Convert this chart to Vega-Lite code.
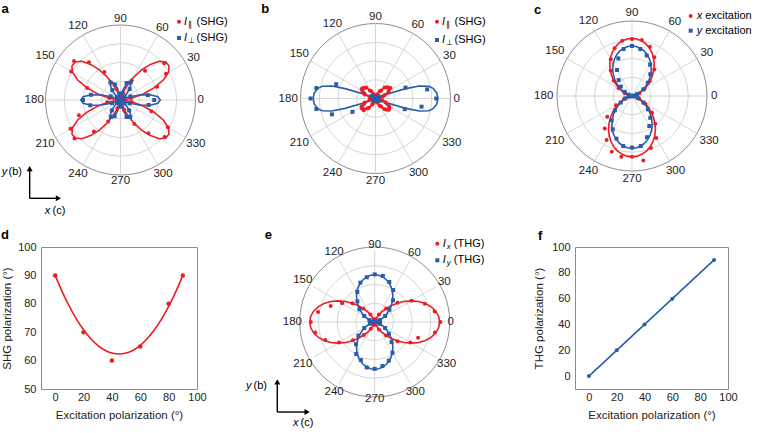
{
"$schema": "https://vega.github.io/schema/vega-lite/v6.json",
"background": "white",
"padding": {"left": 0, "top": 0, "right": 0, "bottom": 0},
"spacing": -18,
"config": {"font": "Liberation Sans", "axis": {"domain": false, "ticks": false, "grid": false, "labelFontSize": 11, "titleFontSize": 11.5, "titleFontWeight": "normal", "labelColor": "#222", "titleColor": "#222", "titlePadding": 7, "labelFlush": false, "labelOverlap": false}},
"vconcat": [
{"hconcat": [
{
"width": 257, "height": 246, "view": {"stroke": null},
"data": {"values": "k,s,t,r\nf,r,0,0\nf,r,5,.05\nf,r,10,.17\nf,r,15,.32\nf,r,20,.48\nf,r,25,.63\nf,r,30,.74\nf,r,35,.79\nf,r,40,.79\nf,r,45,.73\nf,r,50,.62\nf,r,55,.49\nf,r,60,.35\nf,r,65,.23\nf,r,70,.13\nf,r,75,.06\nf,r,80,.02\nf,r,85,.005\nf,r,90,0\nf,r,95,.005\nf,r,100,.02\nf,r,105,.06\nf,r,110,.13\nf,r,115,.23\nf,r,120,.35\nf,r,125,.49\nf,r,130,.62\nf,r,135,.73\nf,r,140,.79\nf,r,145,.79\nf,r,150,.74\nf,r,155,.63\nf,r,160,.48\nf,r,165,.32\nf,r,170,.17\nf,r,175,.05\nf,r,180,0\nf,r,185,.05\nf,r,190,.17\nf,r,195,.32\nf,r,200,.48\nf,r,205,.63\nf,r,210,.74\nf,r,215,.79\nf,r,220,.79\nf,r,225,.73\nf,r,230,.62\nf,r,235,.49\nf,r,240,.35\nf,r,245,.23\nf,r,250,.13\nf,r,255,.06\nf,r,260,.02\nf,r,265,.005\nf,r,270,0\nf,r,275,.005\nf,r,280,.02\nf,r,285,.06\nf,r,290,.13\nf,r,295,.23\nf,r,300,.35\nf,r,305,.49\nf,r,310,.62\nf,r,315,.73\nf,r,320,.79\nf,r,325,.79\nf,r,330,.74\nf,r,335,.63\nf,r,340,.48\nf,r,345,.32\nf,r,350,.17\nf,r,355,.05\nf,b,0,.53\nf,b,5,.50\nf,b,10,.40\nf,b,15,.26\nf,b,20,.13\nf,b,25,.04\nf,b,30,0\nf,b,35,.02\nf,b,40,.06\nf,b,45,.12\nf,b,50,.18\nf,b,55,.23\nf,b,60,.26\nf,b,65,.26\nf,b,70,.22\nf,b,75,.15\nf,b,80,.08\nf,b,85,.025\nf,b,90,0\nf,b,95,.025\nf,b,100,.08\nf,b,105,.15\nf,b,110,.22\nf,b,115,.26\nf,b,120,.26\nf,b,125,.23\nf,b,130,.18\nf,b,135,.12\nf,b,140,.06\nf,b,145,.02\nf,b,150,0\nf,b,155,.04\nf,b,160,.13\nf,b,165,.26\nf,b,170,.40\nf,b,175,.50\nf,b,180,.53\nf,b,185,.50\nf,b,190,.40\nf,b,195,.26\nf,b,200,.13\nf,b,205,.04\nf,b,210,0\nf,b,215,.02\nf,b,220,.06\nf,b,225,.12\nf,b,230,.18\nf,b,235,.23\nf,b,240,.26\nf,b,245,.26\nf,b,250,.22\nf,b,255,.15\nf,b,260,.08\nf,b,265,.025\nf,b,270,0\nf,b,275,.025\nf,b,280,.08\nf,b,285,.15\nf,b,290,.22\nf,b,295,.26\nf,b,300,.26\nf,b,305,.23\nf,b,310,.18\nf,b,315,.12\nf,b,320,.06\nf,b,325,.02\nf,b,330,0\nf,b,335,.04\nf,b,340,.13\nf,b,345,.26\nf,b,350,.40\nf,b,355,.50\np,r,0,.02\np,r,10,.14\np,r,20,.52\np,r,30,.70\np,r,40,.76\np,r,50,.51\np,r,60,.30\np,r,70,.10\np,r,80,.03\np,r,90,.02\np,r,100,.04\np,r,110,.16\np,r,120,.43\np,r,130,.655\np,r,140,.81\np,r,150,.76\np,r,160,.47\np,r,170,.15\np,r,180,.03\np,r,190,.18\np,r,200,.59\np,r,210,.77\np,r,220,.80\np,r,230,.55\np,r,240,.33\np,r,250,.12\np,r,260,.03\np,r,270,.02\np,r,280,.03\np,r,290,.14\np,r,300,.37\np,r,310,.58\np,r,320,.77\np,r,330,.73\np,r,340,.44\np,r,350,.15\np,b,0,.45\np,b,10,.37\np,b,20,.14\np,b,30,.03\np,b,40,.07\np,b,50,.19\np,b,60,.27\np,b,70,.24\np,b,80,.09\np,b,90,.02\np,b,100,.08\np,b,110,.22\np,b,120,.27\np,b,130,.17\np,b,140,.06\np,b,150,.02\np,b,160,.14\np,b,170,.40\np,b,180,.50\np,b,190,.41\np,b,200,.12\np,b,210,.02\np,b,220,.06\np,b,230,.18\np,b,240,.26\np,b,250,.23\np,b,260,.08\np,b,270,.02\np,b,280,.09\np,b,290,.24\np,b,300,.26\np,b,310,.18\np,b,320,.07\np,b,330,.02\np,b,340,.13\np,b,350,.38", "format": {"type": "csv", "parse": {"t": "number", "r": "number"}}},
"layer": [
{"data": {"values": [{"r": 0.25}, {"r": 0.5}, {"r": 0.75}, {"r": 1}]}, "transform": [{"calculate": "0", "as": "o"}], "mark": {"type": "point", "shape": "circle", "filled": false, "opacity": 1, "strokeWidth": 0.8},
 "encoding": {"x": {"field": "o", "type": "quantitative", "scale": {"domain": [-1.06, 2.3667], "nice": false, "zero": false}, "axis": null}, "y": {"field": "o", "type": "quantitative", "scale": {"domain": [-1.9467, 1.3333], "nice": false, "zero": false}, "axis": null}, "size": {"field": "r", "type": "quantitative", "scale": {"type": "pow", "exponent": 2, "domain": [0, 1], "range": [0, 22500]}, "legend": null}, "color": {"condition": {"test": "datum.r == 1", "value": "#707070"}, "value": "#cccccc"}}},
{"data": {"values": [{"t": 0}, {"t": 30}, {"t": 60}, {"t": 90}, {"t": 120}, {"t": 150}, {"t": 180}, {"t": 210}, {"t": 240}, {"t": 270}, {"t": 300}, {"t": 330}]},
 "transform": [{"calculate": "0", "as": "o"}, {"calculate": "cos(datum.t*PI/180)", "as": "cx"}, {"calculate": "sin(datum.t*PI/180)", "as": "cy"}],
 "mark": {"type": "rule", "color": "#cccccc", "strokeWidth": 0.8},
 "encoding": {"x": {"field": "o", "type": "quantitative", "axis": null}, "y": {"field": "o", "type": "quantitative", "axis": null}, "x2": {"field": "cx"}, "y2": {"field": "cy"}}},
{"data": {"values": [{"t": 0}, {"t": 30}, {"t": 60}, {"t": 90}, {"t": 120}, {"t": 150}, {"t": 180}, {"t": 210}, {"t": 240}, {"t": 270}, {"t": 300}, {"t": 330}]},
 "transform": [{"calculate": "1+(2+3.1*length(toString(datum.t))*abs(cos(datum.t*PI/180))+4*abs(sin(datum.t*PI/180)))/75", "as": "lr"}, {"calculate": "datum.lr*cos(datum.t*PI/180)", "as": "lx"}, {"calculate": "datum.lr*sin(datum.t*PI/180)", "as": "ly"}],
 "mark": {"type": "text", "fontSize": 11.5, "color": "#222"},
 "encoding": {"x": {"field": "lx", "type": "quantitative", "axis": null}, "y": {"field": "ly", "type": "quantitative", "axis": null}, "text": {"field": "t", "type": "nominal"}}},
{"transform": [{"filter": "datum.k == 'f'"}, {"calculate": "datum.r*cos(datum.t*PI/180)", "as": "x"}, {"calculate": "datum.r*sin(datum.t*PI/180)", "as": "y"}],
 "mark": {"type": "line", "interpolate": "linear-closed", "strokeWidth": 1.6},
 "encoding": {"x": {"field": "x", "type": "quantitative", "axis": null}, "y": {"field": "y", "type": "quantitative", "axis": null}, "color": {"field": "s", "type": "nominal", "scale": {"domain": ["r", "b"], "range": ["#ed1c24", "#2a5caa"]}, "legend": null}, "order": {"field": "t", "type": "quantitative"}}},
{"transform": [{"filter": "datum.k == 'p'"}, {"calculate": "datum.r*cos(datum.t*PI/180)", "as": "x"}, {"calculate": "datum.r*sin(datum.t*PI/180)", "as": "y"}],
 "mark": {"type": "point", "filled": true, "opacity": 1, "size": 16},
 "encoding": {"x": {"field": "x", "type": "quantitative", "axis": null}, "y": {"field": "y", "type": "quantitative", "axis": null}, "color": {"field": "s", "type": "nominal", "scale": {"domain": ["r", "b"], "range": ["#ed1c24", "#2a5caa"]}, "legend": null}, "shape": {"field": "s", "type": "nominal", "scale": {"domain": ["r", "b"], "range": ["circle", "square"]}, "legend": null}}},
{"data": {"values": [{}]}, "encoding": {"x": {"datum": 0.78, "type": "quantitative", "axis": null}, "y": {"datum": 1.044, "type": "quantitative", "axis": null}},
 "layer": [
  {"mark": {"type": "point", "filled": true, "shape": "circle", "size": 16, "color": "#ed1c24", "opacity": 1}},
  {"mark": {"type": "text", "text": "I", "align": "left", "dx": 5, "fontStyle": "italic", "fontSize": 11}},
  {"mark": {"type": "text", "text": "∥", "align": "left", "dx": 9, "dy": 3, "fontSize": 7.5}},
  {"mark": {"type": "text", "text": "(SHG)", "align": "left", "dx": 17.5, "fontSize": 11}}]},
{"data": {"values": [{}]}, "encoding": {"x": {"datum": 0.78, "type": "quantitative", "axis": null}, "y": {"datum": 0.827, "type": "quantitative", "axis": null}},
 "layer": [
  {"mark": {"type": "point", "filled": true, "shape": "square", "size": 16, "color": "#2a5caa", "opacity": 1}},
  {"mark": {"type": "text", "text": "I", "align": "left", "dx": 5, "fontStyle": "italic", "fontSize": 11}},
  {"mark": {"type": "text", "text": "⊥", "align": "left", "dx": 9, "dy": 3, "fontSize": 7.5}},
  {"mark": {"type": "text", "text": "(SHG)", "align": "left", "dx": 17.5, "fontSize": 11}}]},
{"data": {"values": [{}]}, "mark": {"type": "text", "text": "a", "align": "left", "baseline": "alphabetic", "fontWeight": "bold", "fontSize": 13},
 "encoding": {"x": {"datum": -1.586, "type": "quantitative", "axis": null}, "y": {"datum": 1.156, "type": "quantitative", "axis": null}}},
{"data": {"values": [{}]}, "transform": [{"calculate": "-1.211", "as": "x0"}, {"calculate": "-1.311", "as": "y0"}, {"calculate": "-0.915", "as": "y1"}], "mark": {"type": "rule", "color": "#000", "strokeWidth": 1.4},
 "encoding": {"x": {"field": "x0", "type": "quantitative", "axis": null}, "y": {"field": "y0", "type": "quantitative", "axis": null}, "y2": {"field": "y1"}}},
{"data": {"values": [{}]}, "transform": [{"calculate": "-1.211", "as": "x0"}, {"calculate": "-0.828", "as": "x1"}, {"calculate": "-1.311", "as": "y0"}], "mark": {"type": "rule", "color": "#000", "strokeWidth": 1.4},
 "encoding": {"x": {"field": "x0", "type": "quantitative", "axis": null}, "x2": {"field": "x1"}, "y": {"field": "y0", "type": "quantitative", "axis": null}}},
{"data": {"values": [{}]}, "mark": {"type": "point", "shape": "triangle-up", "filled": true, "size": 36, "color": "#000", "opacity": 1},
 "encoding": {"x": {"datum": -1.211, "type": "quantitative", "axis": null}, "y": {"datum": -0.915, "type": "quantitative", "axis": null}}},
{"data": {"values": [{}]}, "mark": {"type": "point", "shape": "triangle-right", "filled": true, "size": 36, "color": "#000", "opacity": 1},
 "encoding": {"x": {"datum": -0.828, "type": "quantitative", "axis": null}, "y": {"datum": -1.311, "type": "quantitative", "axis": null}}},
{"data": {"values": [{}]}, "mark": {"type": "text", "text": "y", "align": "left", "fontStyle": "italic", "fontSize": 11},
 "encoding": {"x": {"datum": -1.584, "type": "quantitative", "axis": null}, "y": {"datum": -0.956, "type": "quantitative", "axis": null}}},
{"data": {"values": [{}]}, "mark": {"type": "text", "text": "(b)", "align": "left", "fontSize": 11},
 "encoding": {"x": {"datum": -1.493, "type": "quantitative", "axis": null}, "y": {"datum": -0.956, "type": "quantitative", "axis": null}}},
{"data": {"values": [{}]}, "mark": {"type": "text", "text": "x", "align": "left", "fontStyle": "italic", "fontSize": 11},
 "encoding": {"x": {"datum": -1.011, "type": "quantitative", "axis": null}, "y": {"datum": -1.476, "type": "quantitative", "axis": null}}},
{"data": {"values": [{}]}, "mark": {"type": "text", "text": "(c)", "align": "left", "fontSize": 11},
 "encoding": {"x": {"datum": -0.905, "type": "quantitative", "axis": null}, "y": {"datum": -1.476, "type": "quantitative", "axis": null}}}
]
},
{
"width": 205, "height": 246, "view": {"stroke": null},
"data": {"values": "k,s,t,r\nf,r,0,0\nf,r,5,.015\nf,r,10,.05\nf,r,15,.09\nf,r,20,.14\nf,r,25,.18\nf,r,30,.21\nf,r,35,.23\nf,r,40,.23\nf,r,45,.21\nf,r,50,.18\nf,r,55,.14\nf,r,60,.10\nf,r,65,.065\nf,r,70,.035\nf,r,75,.015\nf,r,80,.005\nf,r,90,0\nf,r,100,.005\nf,r,105,.015\nf,r,110,.035\nf,r,115,.065\nf,r,120,.10\nf,r,125,.14\nf,r,130,.18\nf,r,135,.21\nf,r,140,.23\nf,r,145,.23\nf,r,150,.21\nf,r,155,.18\nf,r,160,.14\nf,r,165,.09\nf,r,170,.05\nf,r,175,.015\nf,r,180,0\nf,r,185,.015\nf,r,190,.05\nf,r,195,.09\nf,r,200,.14\nf,r,205,.18\nf,r,210,.21\nf,r,215,.23\nf,r,220,.23\nf,r,225,.21\nf,r,230,.18\nf,r,235,.14\nf,r,240,.10\nf,r,245,.065\nf,r,250,.035\nf,r,255,.015\nf,r,260,.005\nf,r,270,0\nf,r,280,.005\nf,r,285,.015\nf,r,290,.035\nf,r,295,.065\nf,r,300,.10\nf,r,305,.14\nf,r,310,.18\nf,r,315,.21\nf,r,320,.23\nf,r,325,.23\nf,r,330,.21\nf,r,335,.18\nf,r,340,.14\nf,r,345,.09\nf,r,350,.05\nf,r,355,.015\nf,b,0,.82\nf,b,5,.81\nf,b,10,.77\nf,b,13,.72\nf,b,16,.60\nf,b,18,.42\nf,b,20,.18\nf,b,23,.06\nf,b,27,.02\nf,b,35,0\nf,b,145,0\nf,b,153,.02\nf,b,157,.06\nf,b,160,.18\nf,b,162,.42\nf,b,164,.60\nf,b,167,.72\nf,b,170,.77\nf,b,175,.81\nf,b,180,.82\nf,b,185,.81\nf,b,190,.77\nf,b,193,.72\nf,b,196,.60\nf,b,198,.42\nf,b,200,.18\nf,b,203,.06\nf,b,207,.02\nf,b,215,0\nf,b,325,0\nf,b,333,.02\nf,b,337,.06\nf,b,340,.18\nf,b,342,.42\nf,b,344,.60\nf,b,347,.72\nf,b,350,.77\nf,b,355,.81\np,r,0,.01\np,r,5,.02\np,r,10,.05\np,r,15,.10\np,r,20,.13\np,r,25,.19\np,r,30,.20\np,r,35,.24\np,r,40,.22\np,r,45,.21\np,r,50,.19\np,r,55,.13\np,r,60,.11\np,r,65,.06\np,r,70,.04\np,r,75,.02\np,r,80,.01\np,r,85,.01\np,r,90,.01\np,r,95,.01\np,r,100,.01\np,r,105,.03\np,r,110,.05\np,r,115,.07\np,r,120,.11\np,r,125,.13\np,r,130,.19\np,r,135,.20\np,r,140,.21\np,r,145,.22\np,r,150,.20\np,r,155,.17\np,r,160,.15\np,r,165,.08\np,r,170,.06\np,r,175,.02\np,r,180,.01\np,r,185,.02\np,r,190,.06\np,r,195,.08\np,r,200,.15\np,r,205,.17\np,r,210,.21\np,r,215,.22\np,r,220,.21\np,r,225,.22\np,r,230,.17\np,r,235,.15\np,r,240,.09\np,r,245,.07\np,r,250,.04\np,r,255,.02\np,r,260,.01\np,r,265,.01\np,r,270,.01\np,r,275,.01\np,r,280,.01\np,r,285,.02\np,r,290,.04\np,r,295,.06\np,r,300,.11\np,r,305,.13\np,r,310,.18\np,r,315,.21\np,r,320,.23\np,r,325,.22\np,r,330,.21\np,r,335,.17\np,r,340,.14\np,r,345,.09\np,r,350,.05\np,r,355,.02\np,b,0,.80\np,b,10,.69\np,b,20,.42\np,b,30,.05\np,b,40,.03\np,b,50,.02\np,b,60,.02\np,b,70,.02\np,b,80,.02\np,b,90,.02\np,b,100,.02\np,b,110,.02\np,b,120,.02\np,b,130,.03\np,b,140,.04\np,b,150,.06\np,b,160,.55\np,b,170,.79\np,b,180,.855\np,b,190,.79\np,b,200,.61\np,b,210,.35\np,b,220,.04\np,b,230,.03\np,b,240,.02\np,b,250,.02\np,b,260,.02\np,b,270,.02\np,b,280,.02\np,b,290,.02\np,b,300,.02\np,b,310,.03\np,b,320,.04\np,b,330,.06\np,b,340,.41\np,b,350,.615", "format": {"type": "csv", "parse": {"t": "number", "r": "number"}}},
"layer": [
{"data": {"values": [{"r": 0.25}, {"r": 0.5}, {"r": 0.75}, {"r": 1}]}, "transform": [{"calculate": "0", "as": "o"}], "mark": {"type": "point", "shape": "circle", "filled": false, "opacity": 1, "strokeWidth": 0.8},
 "encoding": {"x": {"field": "o", "type": "quantitative", "scale": {"domain": [-1.0197, 1.6776], "nice": false, "zero": false}, "axis": null}, "y": {"field": "o", "type": "quantitative", "scale": {"domain": [-1.9408, 1.2961], "nice": false, "zero": false}, "axis": null}, "size": {"field": "r", "type": "quantitative", "scale": {"type": "pow", "exponent": 2, "domain": [0, 1], "range": [0, 23104]}, "legend": null}, "color": {"condition": {"test": "datum.r == 1", "value": "#707070"}, "value": "#cccccc"}}},
{"data": {"values": [{"t": 0}, {"t": 30}, {"t": 60}, {"t": 90}, {"t": 120}, {"t": 150}, {"t": 180}, {"t": 210}, {"t": 240}, {"t": 270}, {"t": 300}, {"t": 330}]},
 "transform": [{"calculate": "0", "as": "o"}, {"calculate": "cos(datum.t*PI/180)", "as": "cx"}, {"calculate": "sin(datum.t*PI/180)", "as": "cy"}],
 "mark": {"type": "rule", "color": "#cccccc", "strokeWidth": 0.8},
 "encoding": {"x": {"field": "o", "type": "quantitative", "axis": null}, "y": {"field": "o", "type": "quantitative", "axis": null}, "x2": {"field": "cx"}, "y2": {"field": "cy"}}},
{"data": {"values": [{"t": 0}, {"t": 30}, {"t": 60}, {"t": 90}, {"t": 120}, {"t": 150}, {"t": 180}, {"t": 210}, {"t": 240}, {"t": 270}, {"t": 300}, {"t": 330}]},
 "transform": [{"calculate": "1+(2+3.1*length(toString(datum.t))*abs(cos(datum.t*PI/180))+4*abs(sin(datum.t*PI/180)))/76", "as": "lr"}, {"calculate": "datum.lr*cos(datum.t*PI/180)", "as": "lx"}, {"calculate": "datum.lr*sin(datum.t*PI/180)", "as": "ly"}],
 "mark": {"type": "text", "fontSize": 11.5, "color": "#222"},
 "encoding": {"x": {"field": "lx", "type": "quantitative", "axis": null}, "y": {"field": "ly", "type": "quantitative", "axis": null}, "text": {"field": "t", "type": "nominal"}}},
{"transform": [{"filter": "datum.k == 'f'"}, {"calculate": "datum.r*cos(datum.t*PI/180)", "as": "x"}, {"calculate": "datum.r*sin(datum.t*PI/180)", "as": "y"}],
 "mark": {"type": "line", "interpolate": "linear-closed", "strokeWidth": 1.6},
 "encoding": {"x": {"field": "x", "type": "quantitative", "axis": null}, "y": {"field": "y", "type": "quantitative", "axis": null}, "color": {"field": "s", "type": "nominal", "scale": {"domain": ["r", "b"], "range": ["#ed1c24", "#2a5caa"]}, "legend": null}, "order": {"field": "t", "type": "quantitative"}}},
{"transform": [{"filter": "datum.k == 'p'"}, {"calculate": "datum.r*cos(datum.t*PI/180)", "as": "x"}, {"calculate": "datum.r*sin(datum.t*PI/180)", "as": "y"}],
 "mark": {"type": "point", "filled": true, "opacity": 1, "size": 16},
 "encoding": {"x": {"field": "x", "type": "quantitative", "axis": null}, "y": {"field": "y", "type": "quantitative", "axis": null}, "color": {"field": "s", "type": "nominal", "scale": {"domain": ["r", "b"], "range": ["#ed1c24", "#2a5caa"]}, "legend": null}, "shape": {"field": "s", "type": "nominal", "scale": {"domain": ["r", "b"], "range": ["circle", "square"]}, "legend": null}}},
{"data": {"values": [{}]}, "encoding": {"x": {"datum": 0.809, "type": "quantitative", "axis": null}, "y": {"datum": 1.0105, "type": "quantitative", "axis": null}},
 "layer": [
  {"mark": {"type": "point", "filled": true, "shape": "circle", "size": 16, "color": "#ed1c24", "opacity": 1}},
  {"mark": {"type": "text", "text": "I", "align": "left", "dx": 5, "fontStyle": "italic", "fontSize": 11}},
  {"mark": {"type": "text", "text": "∥", "align": "left", "dx": 9, "dy": 3, "fontSize": 7.5}},
  {"mark": {"type": "text", "text": "(SHG)", "align": "left", "dx": 17.5, "fontSize": 11}}]},
{"data": {"values": [{}]}, "encoding": {"x": {"datum": 0.809, "type": "quantitative", "axis": null}, "y": {"datum": 0.77, "type": "quantitative", "axis": null}},
 "layer": [
  {"mark": {"type": "point", "filled": true, "shape": "square", "size": 16, "color": "#2a5caa", "opacity": 1}},
  {"mark": {"type": "text", "text": "I", "align": "left", "dx": 5, "fontStyle": "italic", "fontSize": 11}},
  {"mark": {"type": "text", "text": "⊥", "align": "left", "dx": 9, "dy": 3, "fontSize": 7.5}},
  {"mark": {"type": "text", "text": "(SHG)", "align": "left", "dx": 17.5, "fontSize": 11}}]},
{"data": {"values": [{}]}, "mark": {"type": "text", "text": "b", "align": "left", "baseline": "alphabetic", "fontWeight": "bold", "fontSize": 13},
 "encoding": {"x": {"datum": -1.503, "type": "quantitative", "axis": null}, "y": {"datum": 1.121, "type": "quantitative", "axis": null}}}
]
},
{
"width": 252, "height": 246, "view": {"stroke": null},
"data": {"values": "k,s,t,r\nf,r,0,0\nf,r,5,.006\nf,r,10,.023\nf,r,15,.05\nf,r,20,.088\nf,r,25,.134\nf,r,30,.188\nf,r,35,.247\nf,r,40,.31\nf,r,45,.375\nf,r,50,.44\nf,r,55,.503\nf,r,60,.563\nf,r,65,.616\nf,r,70,.662\nf,r,75,.70\nf,r,80,.727\nf,r,85,.744\nf,r,90,.75\nf,r,95,.744\nf,r,100,.727\nf,r,105,.70\nf,r,110,.662\nf,r,115,.616\nf,r,120,.563\nf,r,125,.503\nf,r,130,.44\nf,r,135,.375\nf,r,140,.31\nf,r,145,.247\nf,r,150,.188\nf,r,155,.134\nf,r,160,.088\nf,r,165,.05\nf,r,170,.023\nf,r,175,.006\nf,r,180,0\nf,r,185,.006\nf,r,190,.024\nf,r,195,.053\nf,r,200,.092\nf,r,205,.141\nf,r,210,.198\nf,r,215,.26\nf,r,220,.326\nf,r,225,.395\nf,r,230,.464\nf,r,235,.53\nf,r,240,.593\nf,r,245,.649\nf,r,250,.698\nf,r,255,.737\nf,r,260,.766\nf,r,265,.784\nf,r,270,.79\nf,r,275,.784\nf,r,280,.766\nf,r,285,.737\nf,r,290,.698\nf,r,295,.649\nf,r,300,.593\nf,r,305,.53\nf,r,310,.464\nf,r,315,.395\nf,r,320,.326\nf,r,325,.26\nf,r,330,.198\nf,r,335,.141\nf,r,340,.092\nf,r,345,.053\nf,r,350,.024\nf,r,355,.006\nf,b,0,0\nf,b,5,.005\nf,b,10,.02\nf,b,15,.044\nf,b,20,.076\nf,b,25,.116\nf,b,30,.163\nf,b,35,.214\nf,b,40,.269\nf,b,45,.325\nf,b,50,.381\nf,b,55,.436\nf,b,60,.488\nf,b,65,.534\nf,b,70,.574\nf,b,75,.606\nf,b,80,.63\nf,b,85,.645\nf,b,90,.65\nf,b,95,.645\nf,b,100,.63\nf,b,105,.606\nf,b,110,.574\nf,b,115,.534\nf,b,120,.488\nf,b,125,.436\nf,b,130,.381\nf,b,135,.325\nf,b,140,.269\nf,b,145,.214\nf,b,150,.163\nf,b,155,.116\nf,b,160,.076\nf,b,165,.044\nf,b,170,.02\nf,b,175,.005\nf,b,180,0\nf,b,185,.005\nf,b,190,.021\nf,b,195,.046\nf,b,200,.08\nf,b,205,.121\nf,b,210,.17\nf,b,215,.224\nf,b,220,.281\nf,b,225,.34\nf,b,230,.399\nf,b,235,.456\nf,b,240,.51\nf,b,245,.559\nf,b,250,.60\nf,b,255,.634\nf,b,260,.659\nf,b,265,.675\nf,b,270,.68\nf,b,275,.675\nf,b,280,.659\nf,b,285,.634\nf,b,290,.60\nf,b,295,.559\nf,b,300,.51\nf,b,305,.456\nf,b,310,.399\nf,b,315,.34\nf,b,320,.281\nf,b,325,.224\nf,b,330,.17\nf,b,335,.121\nf,b,340,.08\nf,b,345,.046\nf,b,350,.021\nf,b,355,.005\np,r,0,.02\np,r,10,.03\np,r,20,.10\np,r,30,.19\np,r,40,.30\np,r,50,.45\np,r,60,.58\np,r,70,.68\np,r,80,.74\np,r,90,.74\np,r,100,.73\np,r,110,.66\np,r,120,.55\np,r,130,.43\np,r,140,.31\np,r,150,.20\np,r,160,.10\np,r,170,.03\np,r,180,.01\np,r,190,.04\np,r,200,.11\np,r,210,.24\np,r,220,.42\np,r,230,.55\np,r,240,.66\np,r,250,.77\np,r,260,.80\np,r,270,.79\np,r,280,.85\np,r,290,.72\np,r,300,.63\np,r,310,.47\np,r,320,.34\np,r,330,.20\np,r,340,.10\np,r,350,.03\np,b,0,.01\np,b,10,.02\np,b,20,.07\np,b,30,.17\np,b,40,.27\np,b,50,.37\np,b,60,.47\np,b,70,.56\np,b,80,.62\np,b,90,.65\np,b,100,.62\np,b,110,.52\np,b,120,.39\np,b,130,.27\np,b,140,.19\np,b,150,.11\np,b,160,.05\np,b,170,.02\np,b,180,.01\np,b,190,.03\np,b,200,.09\np,b,210,.17\np,b,220,.29\np,b,230,.41\np,b,240,.50\np,b,250,.59\np,b,260,.66\np,b,270,.67\np,b,280,.66\np,b,290,.57\np,b,300,.45\np,b,310,.37\np,b,320,.27\np,b,330,.17\np,b,340,.08\np,b,350,.02", "format": {"type": "csv", "parse": {"t": "number", "r": "number"}}},
"layer": [
{"data": {"values": [{"r": 0.25}, {"r": 0.5}, {"r": 0.75}, {"r": 1}]}, "transform": [{"calculate": "0", "as": "o"}], "mark": {"type": "point", "shape": "circle", "filled": false, "opacity": 1, "strokeWidth": 0.8},
 "encoding": {"x": {"field": "o", "type": "quantitative", "scale": {"domain": [-1.6753, 1.5974], "nice": false, "zero": false}, "axis": null}, "y": {"field": "o", "type": "quantitative", "scale": {"domain": [-1.9481, 1.2468], "nice": false, "zero": false}, "axis": null}, "size": {"field": "r", "type": "quantitative", "scale": {"type": "pow", "exponent": 2, "domain": [0, 1], "range": [0, 23716]}, "legend": null}, "color": {"condition": {"test": "datum.r == 1", "value": "#707070"}, "value": "#cccccc"}}},
{"data": {"values": [{"t": 0}, {"t": 30}, {"t": 60}, {"t": 90}, {"t": 120}, {"t": 150}, {"t": 180}, {"t": 210}, {"t": 240}, {"t": 270}, {"t": 300}, {"t": 330}]},
 "transform": [{"calculate": "0", "as": "o"}, {"calculate": "cos(datum.t*PI/180)", "as": "cx"}, {"calculate": "sin(datum.t*PI/180)", "as": "cy"}],
 "mark": {"type": "rule", "color": "#cccccc", "strokeWidth": 0.8},
 "encoding": {"x": {"field": "o", "type": "quantitative", "axis": null}, "y": {"field": "o", "type": "quantitative", "axis": null}, "x2": {"field": "cx"}, "y2": {"field": "cy"}}},
{"data": {"values": [{"t": 0}, {"t": 30}, {"t": 60}, {"t": 90}, {"t": 120}, {"t": 150}, {"t": 180}, {"t": 210}, {"t": 240}, {"t": 270}, {"t": 300}, {"t": 330}]},
 "transform": [{"calculate": "1+(2+3.1*length(toString(datum.t))*abs(cos(datum.t*PI/180))+4*abs(sin(datum.t*PI/180)))/77", "as": "lr"}, {"calculate": "datum.lr*cos(datum.t*PI/180)", "as": "lx"}, {"calculate": "datum.lr*sin(datum.t*PI/180)", "as": "ly"}],
 "mark": {"type": "text", "fontSize": 11.5, "color": "#222"},
 "encoding": {"x": {"field": "lx", "type": "quantitative", "axis": null}, "y": {"field": "ly", "type": "quantitative", "axis": null}, "text": {"field": "t", "type": "nominal"}}},
{"transform": [{"filter": "datum.k == 'f'"}, {"calculate": "datum.r*cos(datum.t*PI/180)", "as": "x"}, {"calculate": "datum.r*sin(datum.t*PI/180)", "as": "y"}],
 "mark": {"type": "line", "interpolate": "linear-closed", "strokeWidth": 1.6},
 "encoding": {"x": {"field": "x", "type": "quantitative", "axis": null}, "y": {"field": "y", "type": "quantitative", "axis": null}, "color": {"field": "s", "type": "nominal", "scale": {"domain": ["r", "b"], "range": ["#ed1c24", "#2a5caa"]}, "legend": null}, "order": {"field": "t", "type": "quantitative"}}},
{"transform": [{"filter": "datum.k == 'p'"}, {"calculate": "datum.r*cos(datum.t*PI/180)", "as": "x"}, {"calculate": "datum.r*sin(datum.t*PI/180)", "as": "y"}],
 "mark": {"type": "point", "filled": true, "opacity": 1, "size": 16},
 "encoding": {"x": {"field": "x", "type": "quantitative", "axis": null}, "y": {"field": "y", "type": "quantitative", "axis": null}, "color": {"field": "s", "type": "nominal", "scale": {"domain": ["r", "b"], "range": ["#ed1c24", "#2a5caa"]}, "legend": null}, "shape": {"field": "s", "type": "nominal", "scale": {"domain": ["r", "b"], "range": ["circle", "square"]}, "legend": null}}},
{"data": {"values": [{}]}, "encoding": {"x": {"datum": 0.762, "type": "quantitative", "axis": null}, "y": {"datum": 1.039, "type": "quantitative", "axis": null}},
 "layer": [
  {"mark": {"type": "point", "filled": true, "shape": "circle", "size": 16, "color": "#ed1c24", "opacity": 1}},
  {"mark": {"type": "text", "text": "x", "align": "left", "dx": 6, "fontStyle": "italic", "fontSize": 11}},
  {"mark": {"type": "text", "text": "excitation", "align": "left", "dx": 14.5, "fontSize": 11}}]},
{"data": {"values": [{}]}, "encoding": {"x": {"datum": 0.762, "type": "quantitative", "axis": null}, "y": {"datum": 0.848, "type": "quantitative", "axis": null}},
 "layer": [
  {"mark": {"type": "point", "filled": true, "shape": "square", "size": 16, "color": "#2a5caa", "opacity": 1}},
  {"mark": {"type": "text", "text": "y", "align": "left", "dx": 6, "fontStyle": "italic", "fontSize": 11}},
  {"mark": {"type": "text", "text": "excitation", "align": "left", "dx": 14.5, "fontSize": 11}}]},
{"data": {"values": [{}]}, "mark": {"type": "text", "text": "c", "align": "left", "baseline": "alphabetic", "fontWeight": "bold", "fontSize": 13},
 "encoding": {"x": {"datum": -1.273, "type": "quantitative", "axis": null}, "y": {"datum": 1.065, "type": "quantitative", "axis": null}}}
]
}
], "spacing": 0, "bounds": "flush"},
{"hconcat": [
{
"width": 156, "height": 142, "view": {"stroke": "#8c8c8c"},
"layer": [
{"data": {"values": [{"x": 0, "y": 90}, {"x": 5, "y": 84.19}, {"x": 10, "y": 79.06}, {"x": 15, "y": 74.61}, {"x": 20, "y": 70.85}, {"x": 25, "y": 67.77}, {"x": 30, "y": 65.38}, {"x": 35, "y": 63.67}, {"x": 40, "y": 62.64}, {"x": 45, "y": 62.3}, {"x": 50, "y": 62.64}, {"x": 55, "y": 63.67}, {"x": 60, "y": 65.38}, {"x": 65, "y": 67.77}, {"x": 70, "y": 70.85}, {"x": 75, "y": 74.61}, {"x": 80, "y": 79.06}, {"x": 85, "y": 84.19}, {"x": 90, "y": 90}]},
 "mark": {"type": "line", "color": "#ed1c24", "strokeWidth": 1.6, "interpolate": "monotone"},
 "encoding": {"x": {"field": "x", "type": "quantitative", "scale": {"domain": [-10, 100], "nice": false, "zero": false}, "axis": {"values": [0, 20, 40, 60, 80, 100], "title": "Excitation polarization (°)", "labelPadding": 2}}, "y": {"field": "y", "type": "quantitative", "scale": {"domain": [50, 100], "nice": false, "zero": false}, "axis": {"values": [50, 60, 70, 80, 90, 100], "title": "SHG polarization (°)", "labelPadding": 5, "titlePadding": 5}}}},
{"data": {"values": [{"x": 0, "y": 90}, {"x": 20, "y": 70}, {"x": 40, "y": 60}, {"x": 60, "y": 65}, {"x": 80, "y": 80}, {"x": 90, "y": 90}]},
 "mark": {"type": "point", "filled": true, "color": "#ed1c24", "size": 20, "opacity": 1},
 "encoding": {"x": {"field": "x", "type": "quantitative", "axis": {"values": [0, 20, 40, 60, 80, 100], "title": "Excitation polarization (°)", "labelPadding": 2}}, "y": {"field": "y", "type": "quantitative", "axis": {"values": [50, 60, 70, 80, 90, 100], "title": "SHG polarization (°)", "labelPadding": 5, "titlePadding": 5}}}},
{"data": {"values": [{}]}, "mark": {"type": "text", "text": "d", "align": "left", "baseline": "alphabetic", "fontWeight": "bold", "fontSize": 13},
 "encoding": {"x": {"datum": -38.2, "type": "quantitative", "axis": {"values": [0, 20, 40, 60, 80, 100], "title": "Excitation polarization (°)", "labelPadding": 2}}, "y": {"datum": 102.7, "type": "quantitative", "axis": {"values": [50, 60, 70, 80, 90, 100], "title": "SHG polarization (°)", "labelPadding": 5, "titlePadding": 5}}}}
]
},
{
"width": 378, "height": 142, "view": {"stroke": null},
"data": {"values": "k,s,t,r\nf,r,0,.915\nf,r,5,.905\nf,r,10,.874\nf,r,15,.825\nf,r,20,.759\nf,r,25,.681\nf,r,30,.594\nf,r,35,.503\nf,r,40,.411\nf,r,45,.324\nf,r,50,.243\nf,r,55,.173\nf,r,60,.114\nf,r,65,.069\nf,r,70,.037\nf,r,75,.016\nf,r,80,.005\nf,r,85,.001\nf,r,90,0\nf,r,95,.001\nf,r,100,.005\nf,r,105,.016\nf,r,110,.037\nf,r,115,.069\nf,r,120,.114\nf,r,125,.173\nf,r,130,.243\nf,r,135,.324\nf,r,140,.411\nf,r,145,.503\nf,r,150,.594\nf,r,155,.681\nf,r,160,.759\nf,r,165,.825\nf,r,170,.874\nf,r,175,.905\nf,r,180,.915\nf,r,185,.905\nf,r,190,.874\nf,r,195,.825\nf,r,200,.759\nf,r,205,.681\nf,r,210,.594\nf,r,215,.503\nf,r,220,.411\nf,r,225,.324\nf,r,230,.243\nf,r,235,.173\nf,r,240,.114\nf,r,245,.069\nf,r,250,.037\nf,r,255,.016\nf,r,260,.005\nf,r,265,.001\nf,r,270,0\nf,r,275,.001\nf,r,280,.005\nf,r,285,.016\nf,r,290,.037\nf,r,295,.069\nf,r,300,.114\nf,r,305,.173\nf,r,310,.243\nf,r,315,.324\nf,r,320,.411\nf,r,325,.503\nf,r,330,.594\nf,r,335,.681\nf,r,340,.759\nf,r,345,.825\nf,r,350,.874\nf,r,355,.905\nf,b,0,0\nf,b,5,.005\nf,b,10,.02\nf,b,15,.045\nf,b,20,.078\nf,b,25,.119\nf,b,30,.166\nf,b,35,.219\nf,b,40,.275\nf,b,45,.333\nf,b,50,.39\nf,b,55,.446\nf,b,60,.499\nf,b,65,.546\nf,b,70,.587\nf,b,75,.62\nf,b,80,.645\nf,b,85,.66\nf,b,90,.665\nf,b,95,.66\nf,b,100,.645\nf,b,105,.62\nf,b,110,.587\nf,b,115,.546\nf,b,120,.499\nf,b,125,.446\nf,b,130,.39\nf,b,135,.333\nf,b,140,.275\nf,b,145,.219\nf,b,150,.166\nf,b,155,.119\nf,b,160,.078\nf,b,165,.045\nf,b,170,.02\nf,b,175,.005\nf,b,180,0\nf,b,185,.005\nf,b,190,.02\nf,b,195,.045\nf,b,200,.078\nf,b,205,.119\nf,b,210,.166\nf,b,215,.219\nf,b,220,.275\nf,b,225,.333\nf,b,230,.39\nf,b,235,.446\nf,b,240,.499\nf,b,245,.546\nf,b,250,.587\nf,b,255,.62\nf,b,260,.645\nf,b,265,.66\nf,b,270,.665\nf,b,275,.66\nf,b,280,.645\nf,b,285,.62\nf,b,290,.587\nf,b,295,.546\nf,b,300,.499\nf,b,305,.446\nf,b,310,.39\nf,b,315,.333\nf,b,320,.275\nf,b,325,.219\nf,b,330,.166\nf,b,335,.119\nf,b,340,.078\nf,b,345,.045\nf,b,350,.02\nf,b,355,.005\np,r,0,.925\np,r,10,.857\np,r,20,.75\np,r,30,.60\np,r,40,.42\np,r,50,.25\np,r,60,.12\np,r,70,.04\np,r,80,.01\np,r,90,.01\np,r,100,.01\np,r,110,.04\np,r,120,.12\np,r,130,.25\np,r,140,.41\np,r,150,.53\np,r,160,.66\np,r,170,.81\np,r,180,.90\np,r,190,.85\np,r,200,.74\np,r,210,.58\np,r,220,.40\np,r,230,.24\np,r,240,.11\np,r,250,.04\np,r,260,.01\np,r,270,.01\np,r,280,.01\np,r,290,.04\np,r,300,.12\np,r,310,.25\np,r,320,.42\np,r,330,.58\np,r,340,.65\np,r,350,.86\np,b,0,.01\np,b,10,.02\np,b,20,.08\np,b,30,.17\np,b,40,.27\np,b,50,.40\np,b,60,.52\np,b,70,.60\np,b,80,.66\np,b,90,.67\np,b,100,.64\np,b,110,.59\np,b,120,.49\np,b,130,.38\np,b,140,.28\np,b,150,.17\np,b,160,.08\np,b,170,.02\np,b,180,.01\np,b,190,.02\np,b,200,.07\np,b,210,.17\np,b,220,.30\np,b,230,.41\np,b,240,.52\np,b,250,.57\np,b,260,.65\np,b,270,.66\np,b,280,.63\np,b,290,.58\np,b,300,.50\np,b,310,.37\np,b,320,.26\np,b,330,.17\np,b,340,.08\np,b,350,.02", "format": {"type": "csv", "parse": {"t": "number", "r": "number"}}},
"layer": [
{"data": {"values": [{"r": 0.25}, {"r": 0.5}, {"r": 0.75}, {"r": 1}]}, "transform": [{"calculate": "0", "as": "o"}], "mark": {"type": "point", "shape": "circle", "filled": false, "opacity": 1, "strokeWidth": 0.8},
 "encoding": {"x": {"field": "o", "type": "quantitative", "scale": {"domain": [-2.5028, 2.8211], "nice": false, "zero": false}, "axis": null}, "y": {"field": "o", "type": "quantitative", "scale": {"domain": [-0.9437, 1.0563], "nice": false, "zero": false}, "axis": null}, "size": {"field": "r", "type": "quantitative", "scale": {"type": "pow", "exponent": 2, "domain": [0, 1], "range": [0, 20164]}, "legend": null}, "color": {"condition": {"test": "datum.r == 1", "value": "#707070"}, "value": "#cccccc"}}},
{"data": {"values": [{"t": 0}, {"t": 30}, {"t": 60}, {"t": 90}, {"t": 120}, {"t": 150}, {"t": 180}, {"t": 210}, {"t": 240}, {"t": 270}, {"t": 300}, {"t": 330}]},
 "transform": [{"calculate": "0", "as": "o"}, {"calculate": "cos(datum.t*PI/180)", "as": "cx"}, {"calculate": "sin(datum.t*PI/180)", "as": "cy"}],
 "mark": {"type": "rule", "color": "#cccccc", "strokeWidth": 0.8},
 "encoding": {"x": {"field": "o", "type": "quantitative", "axis": null}, "y": {"field": "o", "type": "quantitative", "axis": null}, "x2": {"field": "cx"}, "y2": {"field": "cy"}}},
{"data": {"values": [{"t": 0}, {"t": 30}, {"t": 60}, {"t": 90}, {"t": 120}, {"t": 150}, {"t": 180}, {"t": 210}, {"t": 240}, {"t": 270}, {"t": 300}, {"t": 330}]},
 "transform": [{"calculate": "1+(2+3.1*length(toString(datum.t))*abs(cos(datum.t*PI/180))+4*abs(sin(datum.t*PI/180)))/71", "as": "lr"}, {"calculate": "datum.lr*cos(datum.t*PI/180)", "as": "lx"}, {"calculate": "datum.lr*sin(datum.t*PI/180)", "as": "ly"}],
 "mark": {"type": "text", "fontSize": 11.5, "color": "#222"},
 "encoding": {"x": {"field": "lx", "type": "quantitative", "axis": null}, "y": {"field": "ly", "type": "quantitative", "axis": null}, "text": {"field": "t", "type": "nominal"}}},
{"transform": [{"filter": "datum.k == 'f'"}, {"calculate": "datum.r*cos(datum.t*PI/180)", "as": "x"}, {"calculate": "datum.r*sin(datum.t*PI/180)", "as": "y"}],
 "mark": {"type": "line", "interpolate": "linear-closed", "strokeWidth": 1.6},
 "encoding": {"x": {"field": "x", "type": "quantitative", "axis": null}, "y": {"field": "y", "type": "quantitative", "axis": null}, "color": {"field": "s", "type": "nominal", "scale": {"domain": ["r", "b"], "range": ["#ed1c24", "#2a5caa"]}, "legend": null}, "order": {"field": "t", "type": "quantitative"}}},
{"transform": [{"filter": "datum.k == 'p'"}, {"calculate": "datum.r*cos(datum.t*PI/180)", "as": "x"}, {"calculate": "datum.r*sin(datum.t*PI/180)", "as": "y"}],
 "mark": {"type": "point", "filled": true, "opacity": 1, "size": 16},
 "encoding": {"x": {"field": "x", "type": "quantitative", "axis": null}, "y": {"field": "y", "type": "quantitative", "axis": null}, "color": {"field": "s", "type": "nominal", "scale": {"domain": ["r", "b"], "range": ["#ed1c24", "#2a5caa"]}, "legend": null}, "shape": {"field": "s", "type": "nominal", "scale": {"domain": ["r", "b"], "range": ["circle", "square"]}, "legend": null}}},
{"data": {"values": [{}]}, "encoding": {"x": {"datum": 0.882, "type": "quantitative", "axis": null}, "y": {"datum": 1.103, "type": "quantitative", "axis": null}},
 "layer": [
  {"mark": {"type": "point", "filled": true, "shape": "circle", "size": 16, "color": "#ed1c24", "opacity": 1}},
  {"mark": {"type": "text", "text": "I", "align": "left", "dx": 5.5, "fontStyle": "italic", "fontSize": 11}},
  {"mark": {"type": "text", "text": "x", "align": "left", "dx": 9.5, "dy": 3, "fontStyle": "italic", "fontSize": 8}},
  {"mark": {"type": "text", "text": "(THG)", "align": "left", "dx": 16.5, "fontSize": 11}}]},
{"data": {"values": [{}]}, "encoding": {"x": {"datum": 0.882, "type": "quantitative", "axis": null}, "y": {"datum": 0.869, "type": "quantitative", "axis": null}},
 "layer": [
  {"mark": {"type": "point", "filled": true, "shape": "square", "size": 16, "color": "#2a5caa", "opacity": 1}},
  {"mark": {"type": "text", "text": "I", "align": "left", "dx": 5.5, "fontStyle": "italic", "fontSize": 11}},
  {"mark": {"type": "text", "text": "y", "align": "left", "dx": 9.5, "dy": 3, "fontStyle": "italic", "fontSize": 8}},
  {"mark": {"type": "text", "text": "(THG)", "align": "left", "dx": 16.5, "fontSize": 11}}]},
{"data": {"values": [{}]}, "mark": {"type": "text", "text": "e", "align": "left", "baseline": "alphabetic", "fontWeight": "bold", "fontSize": 13},
 "encoding": {"x": {"datum": -1.549, "type": "quantitative", "axis": null}, "y": {"datum": 1.169, "type": "quantitative", "axis": null}}},
{"data": {"values": [{}]}, "transform": [{"calculate": "-1.372", "as": "x0"}, {"calculate": "-1.268", "as": "y0"}, {"calculate": "-0.844", "as": "y1"}], "mark": {"type": "rule", "color": "#000", "strokeWidth": 1.4},
 "encoding": {"x": {"field": "x0", "type": "quantitative", "axis": null}, "y": {"field": "y0", "type": "quantitative", "axis": null}, "y2": {"field": "y1"}}},
{"data": {"values": [{}]}, "transform": [{"calculate": "-1.372", "as": "x0"}, {"calculate": "-0.952", "as": "x1"}, {"calculate": "-1.268", "as": "y0"}], "mark": {"type": "rule", "color": "#000", "strokeWidth": 1.4},
 "encoding": {"x": {"field": "x0", "type": "quantitative", "axis": null}, "x2": {"field": "x1"}, "y": {"field": "y0", "type": "quantitative", "axis": null}}},
{"data": {"values": [{}]}, "mark": {"type": "point", "shape": "triangle-up", "filled": true, "size": 36, "color": "#000", "opacity": 1},
 "encoding": {"x": {"datum": -1.372, "type": "quantitative", "axis": null}, "y": {"datum": -0.844, "type": "quantitative", "axis": null}}},
{"data": {"values": [{}]}, "mark": {"type": "point", "shape": "triangle-right", "filled": true, "size": 36, "color": "#000", "opacity": 1},
 "encoding": {"x": {"datum": -0.952, "type": "quantitative", "axis": null}, "y": {"datum": -1.268, "type": "quantitative", "axis": null}}},
{"data": {"values": [{}]}, "mark": {"type": "text", "text": "y", "align": "left", "fontStyle": "italic", "fontSize": 11},
 "encoding": {"x": {"datum": -1.813, "type": "quantitative", "axis": null}, "y": {"datum": -0.901, "type": "quantitative", "axis": null}}},
{"data": {"values": [{}]}, "mark": {"type": "text", "text": "(b)", "align": "left", "fontSize": 11},
 "encoding": {"x": {"datum": -1.707, "type": "quantitative", "axis": null}, "y": {"datum": -0.901, "type": "quantitative", "axis": null}}},
{"data": {"values": [{}]}, "mark": {"type": "text", "text": "x", "align": "left", "fontStyle": "italic", "fontSize": 11},
 "encoding": {"x": {"datum": -1.151, "type": "quantitative", "axis": null}, "y": {"datum": -1.427, "type": "quantitative", "axis": null}}},
{"data": {"values": [{}]}, "mark": {"type": "text", "text": "(c)", "align": "left", "fontSize": 11},
 "encoding": {"x": {"datum": -1.045, "type": "quantitative", "axis": null}, "y": {"datum": -1.427, "type": "quantitative", "axis": null}}}
]
},
{
"width": 153, "height": 142, "view": {"stroke": "#8c8c8c"},
"layer": [
{"data": {"values": [{"x": 0, "y": 0}, {"x": 90, "y": 90}]},
 "mark": {"type": "line", "color": "#2a5caa", "strokeWidth": 1.6},
 "encoding": {"x": {"field": "x", "type": "quantitative", "scale": {"domain": [-10, 100], "nice": false, "zero": false}, "axis": {"values": [0, 20, 40, 60, 80, 100], "title": "Excitation polarization (°)", "labelPadding": 2}}, "y": {"field": "y", "type": "quantitative", "scale": {"domain": [-10, 100], "nice": false, "zero": false}, "axis": {"values": [0, 20, 40, 60, 80, 100], "title": "THG polarization (°)", "labelPadding": 5}}}},
{"data": {"values": [{"x": 0, "y": 0}, {"x": 20, "y": 20}, {"x": 40, "y": 40}, {"x": 60, "y": 60}, {"x": 90, "y": 90}]},
 "mark": {"type": "point", "filled": true, "color": "#2a5caa", "size": 16, "opacity": 1},
 "encoding": {"x": {"field": "x", "type": "quantitative", "axis": {"values": [0, 20, 40, 60, 80, 100], "title": "Excitation polarization (°)", "labelPadding": 2}}, "y": {"field": "y", "type": "quantitative", "axis": {"values": [0, 20, 40, 60, 80, 100], "title": "THG polarization (°)", "labelPadding": 5}}}},
{"data": {"values": [{}]}, "mark": {"type": "text", "text": "f", "align": "left", "baseline": "alphabetic", "fontWeight": "bold", "fontSize": 13},
 "encoding": {"x": {"datum": -36.6, "type": "quantitative", "axis": {"values": [0, 20, 40, 60, 80, 100], "title": "Excitation polarization (°)", "labelPadding": 2}}, "y": {"datum": 105.2, "type": "quantitative", "axis": {"values": [0, 20, 40, 60, 80, 100], "title": "THG polarization (°)", "labelPadding": 5}}}}
]
}
], "spacing": 0, "bounds": "flush"}
]
}
